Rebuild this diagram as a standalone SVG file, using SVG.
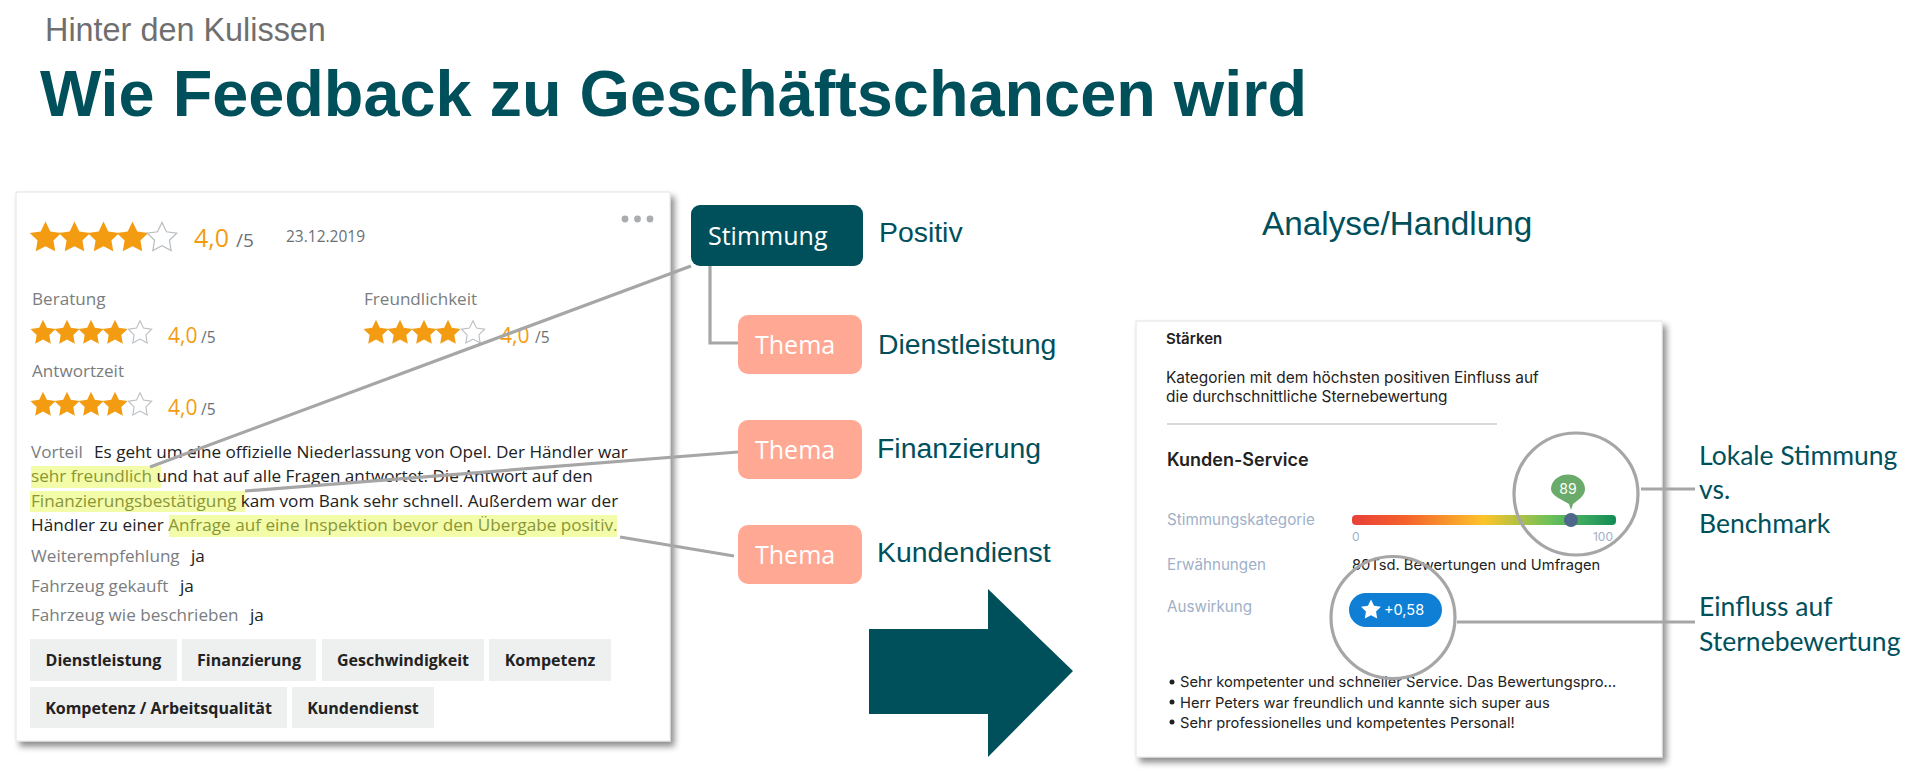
<svg xmlns="http://www.w3.org/2000/svg" width="1920" height="771" viewBox="0 0 1920 771">
<style>
text{font-family:"Open Sans","Liberation Sans",sans-serif}
.lib{font-family:"Liberation Sans",Arial,sans-serif}
.teal{fill:#00505c}
.lab{font-family:"Liberation Sans",Arial,sans-serif;font-size:28.4px;fill:#00505c}
.cal{font-family:Lato,"Open Sans",sans-serif;font-size:26.5px;fill:#00505c}
.mut{fill:#7a7d80;font-size:17.1px}
.blk{fill:#222;font-size:17.15px}
.hi{fill:#8a9636}
.hl{fill:#f3fca8}
.or{fill:#f39c12}
.sl{fill:#6b7074}
.tag{fill:#eeefef}
.tagt{font-size:16px;font-weight:700;fill:#222;text-anchor:middle}
.nt{fill:#fff;font-size:25px}
.th{fill:#ffa893}
.ln{fill:none;stroke:#a6a6a6;stroke-width:3.2}
.ui{font-family:Inter,Roboto,sans-serif}
.uik{font-family:Inter,Roboto,sans-serif;fill:#222;font-size:14.7px}
.uil{font-family:Inter,Roboto,sans-serif;fill:#9fb0c8;font-size:15.2px}
</style>
<defs>
<filter id="sh" x="-5%" y="-5%" width="110%" height="110%"><feDropShadow dx="4" dy="5" stdDeviation="3" flood-color="#000" flood-opacity=".45"/></filter>
<linearGradient id="gr"><stop offset="0" stop-color="#e8403a"/><stop offset=".2" stop-color="#f4602c"/><stop offset=".5" stop-color="#fcc42a"/><stop offset=".75" stop-color="#6cc05a"/><stop offset=".88" stop-color="#3aa860"/><stop offset="1" stop-color="#128a55"/></linearGradient>
<polygon id="s" points="0,-10 2.9,-4 9.5,-3.1 4.8,1.5 5.9,8.1 0,5 -5.9,8.1 -4.8,1.5 -9.5,-3.1 -2.9,-4"/>
<g id="big"><use href="#s" class="or" transform="translate(45.5 238) scale(1.65)"/><use href="#s" class="or" transform="translate(74.5 238) scale(1.65)"/><use href="#s" class="or" transform="translate(103.5 238) scale(1.65)"/><use href="#s" class="or" transform="translate(132.5 238) scale(1.65)"/><use href="#s" fill="#fff" stroke="#b9bec2" stroke-width=".8" transform="translate(162 238) scale(1.55)"/></g>
<g id="small"><use href="#s" class="or" transform="translate(0 0) scale(1.32)"/><use href="#s" class="or" transform="translate(24 0) scale(1.32)"/><use href="#s" class="or" transform="translate(48 0) scale(1.32)"/><use href="#s" class="or" transform="translate(72 0) scale(1.32)"/><use href="#s" fill="#fff" stroke="#b9bec2" stroke-width=".9" transform="translate(97 0) scale(1.22)"/></g>
</defs>

<g id="title">
<text class="lib" x="45" y="41" font-size="32.4" fill="#6f6f6f">Hinter den Kulissen</text>
<text class="lib teal" x="40" y="116" font-size="64.8" font-weight="700">Wie Feedback zu Geschäftschancen wird</text>
</g>

<g id="review-card">
<rect x="16" y="192" width="654" height="549" fill="#fff" stroke="#e4e4e4" filter="url(#sh)"/>
<use href="#big"/>
<text x="194" y="247" font-size="25" class="or">4,0</text><text x="236" y="247" font-size="19" class="sl">/5</text>
<text x="286" y="242" font-size="15.5" class="sl">23.12.2019</text>
<g fill="#a9adb0"><circle cx="625" cy="219" r="3.4"/><circle cx="637.500" cy="219" r="3.4"/><circle cx="650" cy="219" r="3.4"/></g>
<text x="32" y="305" class="mut">Beratung</text><text x="364" y="305" class="mut">Freundlichkeit</text>
<use href="#small" x="43" y="333"/><use href="#small" x="376" y="333"/>
<text x="168" y="343" font-size="21" class="or">4,0</text><text x="201" y="343" font-size="15.500" class="sl">/5</text>
<text x="500" y="343" font-size="21" class="or">4,0</text><text x="535" y="343" font-size="15.500" class="sl">/5</text>
<text x="32" y="377" class="mut">Antwortzeit</text>
<use href="#small" x="43" y="405"/>
<text x="168" y="415" font-size="21" class="or">4,0</text><text x="201" y="415" font-size="15.500" class="sl">/5</text>
<rect class="hl" x="31" y="466" width="130" height="22"/><rect class="hl" x="30" y="491" width="215" height="21"/><rect class="hl" x="169" y="515" width="448" height="22"/>
<text x="31" y="458" class="mut">Vorteil</text>
<text x="94" y="458" class="blk">Es geht um eine offizielle Niederlassung von Opel. Der Händler war</text>
<text x="31" y="482" class="blk"><tspan class="hi">sehr freundlich </tspan>und hat auf alle Fragen antwortet. Die Antwort auf den</text>
<text x="31" y="507" class="blk"><tspan class="hi">Finanzierungsbestätigung </tspan>kam vom Bank sehr schnell. Außerdem war der</text>
<text x="31" y="531" class="blk">Händler zu einer <tspan class="hi">Anfrage auf eine Inspektion bevor den Übergabe positiv.</tspan></text>
<text x="31" y="562" class="mut">Weiterempfehlung</text><text x="191" y="562" class="blk">ja</text>
<text x="31" y="592" class="mut">Fahrzeug gekauft</text><text x="180" y="592" class="blk">ja</text>
<text x="31" y="621" class="mut">Fahrzeug wie beschrieben</text><text x="250" y="621" class="blk">ja</text>
<rect class="tag" x="30" y="639" width="147" height="42"/><text class="tagt" x="103.500" y="666">Dienstleistung</text>
<rect class="tag" x="182" y="639" width="134" height="42"/><text class="tagt" x="249" y="666">Finanzierung</text>
<rect class="tag" x="322" y="639" width="162" height="42"/><text class="tagt" x="403" y="666">Geschwindigkeit</text>
<rect class="tag" x="489" y="639" width="122" height="42"/><text class="tagt" x="550" y="666">Kompetenz</text>
<rect class="tag" x="30" y="687" width="257" height="41"/><text class="tagt" x="158.500" y="714">Kompetenz / Arbeitsqualität</text>
<rect class="tag" x="292" y="687" width="142" height="41"/><text class="tagt" x="363" y="714">Kundendienst</text>
</g>

<g id="insight-card">
<rect x="1136" y="321" width="526" height="436" fill="#fff" stroke="#e4e4e4" filter="url(#sh)"/>
<text class="uik" x="1166" y="344" style="font-size:15px;font-weight:600">Stärken</text>
<text class="uik" x="1166" y="383" style="font-size:15.4px">Kategorien mit dem höchsten positiven Einfluss auf</text>
<text class="uik" x="1166" y="402" style="font-size:15.4px">die durchschnittliche Sternebewertung</text>
<rect x="1167" y="423" width="330" height="2" fill="#d9d9d9"/>
<text class="uik" x="1167" y="466" style="font-size:18px;font-weight:600">Kunden-Service</text>
<text class="uil" x="1167" y="525">Stimmungskategorie</text>
<rect x="1352" y="515" width="264" height="10" rx="4" fill="url(#gr)"/>
<text class="uil" x="1352" y="541" style="font-size:12px">0</text><text class="uil" x="1613" y="541" text-anchor="end" style="font-size:12px">100</text>
<path d="M1551 489a17 14.500 0 0 1 34 0c0 7-7 11-12 15l-2 6-2-6c-6-4-18-8-18-15z" fill="#6aaa6a"/>
<text class="ui" x="1568" y="494" text-anchor="middle" font-size="14" fill="#fff">89</text>
<circle cx="1571" cy="520" r="7" fill="#50678c"/>
<text class="uil" x="1167" y="570">Erwähnungen</text>
<text class="uik" x="1352" y="570">80Tsd. Bewertungen und Umfragen</text>
<text class="uil" x="1167" y="612">Auswirkung</text>
<rect x="1349" y="593" width="93" height="34" rx="17" fill="#0f7fd6"/>
<use href="#s" fill="#fff" transform="translate(1371 610) scale(1.05)"/>
<text class="ui" x="1384" y="615" font-size="14.500" fill="#fff">+0,58</text>
<g fill="#222"><circle cx="1172" cy="682" r="2.500"/><circle cx="1172" cy="702" r="2.500"/><circle cx="1172" cy="722" r="2.500"/></g>
<text class="uik" x="1180" y="687">Sehr kompetenter und schneller Service. Das Bewertungspro...</text>
<text class="uik" x="1180" y="708">Herr Peters war freundlich und kannte sich super aus</text>
<text class="uik" x="1180" y="728">Sehr professionelles und kompetentes Personal!</text>
</g>

<g id="connectors">
<line class="ln" x1="150" y1="467" x2="691" y2="266"/>
<line class="ln" x1="245" y1="491" x2="738" y2="452"/>
<line class="ln" x1="620" y1="537" x2="734" y2="556"/>
<path class="ln" d="M710 266V343H738"/>
<line class="ln" x1="1641" y1="489" x2="1695" y2="489"/>
<line class="ln" x1="1457" y1="622" x2="1695" y2="622"/>
</g>

<g id="stimmung"><rect x="691" y="205" width="172" height="61" rx="9" fill="#00505c"/><text class="nt" x="708" y="245">Stimmung</text></g>
<g id="thema-1"><rect class="th" x="738" y="315" width="124" height="59" rx="10"/><text class="nt" x="755" y="354">Thema</text></g>
<g id="thema-2"><rect class="th" x="738" y="420" width="124" height="59" rx="10"/><text class="nt" x="755" y="459">Thema</text></g>
<g id="thema-3"><rect class="th" x="738" y="525" width="124" height="59" rx="10"/><text class="nt" x="755" y="564">Thema</text></g>

<g id="labels">
<text class="lab" x="879" y="242">Positiv</text>
<text class="lab" x="878" y="354">Dienstleistung</text>
<text class="lab" x="877" y="458">Finanzierung</text>
<text class="lab" x="877" y="562">Kundendienst</text>
<text class="lab" x="1262" y="235" style="font-size:33.3px">Analyse/Handlung</text>
<text class="cal" x="1699" y="465">Lokale Stimmung</text>
<text class="cal" x="1699" y="499">vs.</text>
<text class="cal" x="1699" y="533">Benchmark</text>
<text class="cal" x="1699" y="616">Einfluss auf</text>
<text class="cal" x="1699" y="651">Sternebewertung</text>
</g>

<g id="lens-1"><ellipse class="ln" cx="1576" cy="494" rx="62" ry="61"/></g>
<g id="lens-2"><ellipse class="ln" cx="1393" cy="617.500" rx="62" ry="61"/></g>
<g id="arrow"><polygon points="869,629 988,629 988,589 1073,671 988,757 988,714 869,714" fill="#00505c"/></g>
</svg>
